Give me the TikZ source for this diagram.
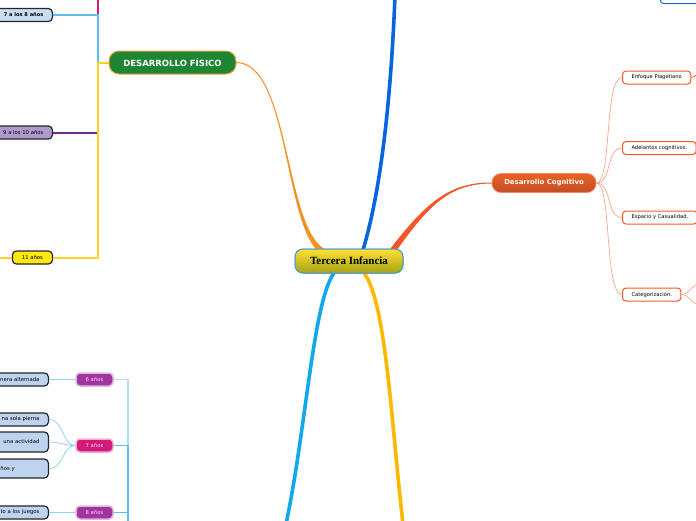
\documentclass[tikz,border=0pt]{standalone}
\usepackage{fontspec}
\setmainfont{Liberation Serif}
\setsansfont{DejaVu Sans}
\usetikzlibrary{positioning}
\definecolor{fisgreen}{HTML}{1E8533}
\definecolor{fisborder}{HTML}{F0A040}
\definecolor{cogred}{HTML}{E55A2B}
\definecolor{cogline}{HTML}{F6A587}
\definecolor{cogedge}{HTML}{F05A28}
\definecolor{rootedge}{HTML}{4A9BD0}
\definecolor{branchorange}{HTML}{F39325}
\definecolor{branchblue}{HTML}{0766DD}
\definecolor{branchred}{HTML}{F2562A}
\definecolor{branchcyan}{HTML}{12A8EA}
\definecolor{branchamber}{HTML}{FFB800}
\definecolor{agelightblue}{HTML}{C6DDF2}
\definecolor{agepurple}{HTML}{B09ACD}
\definecolor{ageyellow}{HTML}{FFE814}
\definecolor{leafblue}{HTML}{BDD3EE}
\definecolor{aniopurple}{HTML}{A2339F}
\definecolor{aniopink}{HTML}{D3197B}
\definecolor{lineltblue}{HTML}{5BC0F0}
\definecolor{linepurple}{HTML}{6A2C91}
\definecolor{lineyellow}{HTML}{FFD21E}
\definecolor{linepink}{HTML}{E0186C}
\definecolor{linesky}{HTML}{8FD3F5}
\definecolor{topblue}{HTML}{1565E0}

\begin{document}
\begin{tikzpicture}[
    x=1pt, y=-1pt,
    root/.style={draw=rootedge, line width=1pt, rounded corners=8pt,
                 top color=yellow!70!orange!80!white, bottom color=yellow!60!black!90,
                 minimum width=108pt, minimum height=24pt,
                 font=\bfseries\fontsize{11}{13}\selectfont},
    fisbox/.style={draw=fisborder, line width=1pt, fill=fisgreen, rounded corners=10pt,
                   minimum width=127pt, minimum height=23pt, text=white,
                   font=\sffamily\bfseries\fontsize{8.5}{10}\selectfont},
    cogbox/.style={draw=cogred!70!white, line width=0.8pt, top color=cogred!80!orange, bottom color=cogred!85!black,
                   rounded corners=9pt, minimum width=104pt, minimum height=19pt, text=white,
                   font=\sffamily\bfseries\fontsize{6.9}{8}\selectfont},
    cogchild/.style={draw=cogedge, line width=1pt, fill=white, rounded corners=3.5pt,
                     minimum height=13pt, inner xsep=9pt, inner ysep=0pt,
                     font=\sffamily\fontsize{5.2}{6}\selectfont},
    edad/.style={draw=black!85, line width=1.2pt, rounded corners=4pt, anchor=east,
                 minimum height=13pt, inner xsep=9pt, inner ysep=0pt,
                 font=\sffamily\fontsize{5.3}{6}\selectfont},
    anio/.style={draw=#1!35!white, line width=1.5pt, fill=#1, rounded corners=4pt,
                 minimum width=37pt, minimum height=13pt, inner sep=0pt, text=white!85!#1,
                 font=\sffamily\fontsize{5.3}{6}\selectfont},
    hoja/.style={draw=black!85, line width=1.2pt, fill=leafblue, rounded corners=4pt, anchor=east,
                 minimum height=13pt, inner xsep=9pt, inner ysep=0pt, text width=41pt, align=right,
                 font=\sffamily\fontsize{5.3}{6}\selectfont},
    cogedge/.style={draw=cogline, line width=0.7pt},
    skyedge/.style={draw=linesky, line width=0.8pt}
]
\clip (0,0) rectangle (696,520);
\useasboundingbox (0,0) rectangle (696,520);

% --- free ends ---
\coordinate (fis-top) at (98,-6);
\coordinate (fis-junta) at (98,62.5);
\coordinate (anio-junta) at (128,530);
\coordinate (blue-end) at (395,-4);
\coordinate (cyan-end) at (286,524);
\coordinate (amber-end) at (403,524);
\coordinate (enf-out) at (700,72);
\coordinate (cat-a) at (700,284);
\coordinate (cat-b) at (700,305);
\coordinate (age11-in) at (-4,257.5);

% --- main nodes ---
\node[root] (centro) at (349,261) {Tercera Infancia};
\node[fisbox] (fisico) at (172.5,62.5) {DESARROLLO FÍSICO};
\node[cogbox] (cognitivo) at (544,183) {Desarrollo Cognitivo};
\node[draw=topblue, line width=1pt, fill=white, rounded corners=3pt, anchor=south west,
      minimum width=60pt, minimum height=20pt] (arriba) at (660,4) {};

% --- main branches (tapered) ---
\fill[branchorange] ([yshift=0.5pt]fisico.east) .. controls (290,62) and (284.7,230.4) .. (326,249.7)
      -- (323,255) .. controls (283.3,233.6) and (290,64) .. ([yshift=-0.5pt]fisico.east) -- cycle;
\fill[branchred] (390.5,248.5) .. controls (426.5,201.9) and (450,182.2) .. ([yshift=0.5pt]cognitivo.west)
      -- ([yshift=-0.5pt]cognitivo.west) .. controls (450,183.8) and (429.5,204.1) .. (395.5,252) -- cycle;
\draw[branchblue, line width=3.6pt] (363,250) .. controls (378,200) and (390,120) .. (blue-end);
\draw[branchcyan, line width=3.6pt] (334,273) .. controls (313,302) and (306,430) .. (cyan-end);
\draw[branchamber, line width=3.6pt] (364,273) .. controls (386,302) and (391,420) .. (amber-end);
\node[root] at (centro) {Tercera Infancia};

% --- desarrollo fisico ---
\node[edad, fill=agelightblue, font=\sffamily\bfseries\fontsize{5.1}{6}\selectfont] (e78) at (53,15) {7 a los 8 años};
\node[edad, fill=agepurple] (e910) at (53,132.5) {9 a los 10 años};
\node[edad, fill=ageyellow, minimum width=40pt] (e11) at (53,257.5) {11 años};

\draw[linepink, line width=2pt] (fis-top) -- (fis-junta);
\draw[lineltblue, line width=2pt] (e78.east) -| (fis-junta);
\draw[linepurple, line width=2pt] (e910.east) -| (fis-junta);
\draw[lineyellow, line width=2pt] (e11.east) -| (fis-junta) -- (fisico.west);
\draw[lineyellow, line width=2pt] (age11-in) -- (e11.west);

% --- edades abajo ---
\node[anio=aniopurple] (a6) at (94.5,379.5) {6 años};
\node[anio=aniopink] (a7) at (94.5,445.5) {7 años};
\node[anio=aniopurple] (a8) at (94.5,512.5) {8 años};

\draw[linesky!70!white, line width=1.5pt] (a6.east) -| (anio-junta);
\draw[lineltblue, line width=1.5pt] (a7.east) -| (anio-junta);
\draw[lineltblue, line width=1.5pt] (a8.east) -| (anio-junta);

\node[hoja] (h61) at (49,379.5) {nera alternada};
\node[hoja] (h71) at (49,419.5) {na sola pierna};
\node[hoja, minimum height=20pt] (h72) at (49,442) {una actividad};
\node[hoja, minimum height=19pt, text width=39pt, align=left] (h73) at (49,468.5) {ños y};
\node[hoja] (h81) at (49,512.5) {to a los juegos};

\draw[skyedge] (a6.west) -- (h61.east);
\draw[skyedge] (a7.west) .. controls (62,445.5) and (64,419.5) .. (h71.east);
\draw[skyedge] (a7.west) .. controls (62,445.5) and (62,442) .. (h72.east);
\draw[skyedge] (a7.west) .. controls (62,445.5) and (64,468.5) .. (h73.east);
\draw[skyedge] (a8.west) -- (h81.east);

% --- desarrollo cognitivo ---
\node[cogchild, anchor=west] (enfoque) at (622,77.5) {Enfoque Piagetiano};
\node[cogchild, anchor=west] (adelantos) at (622,148) {Adelantos cognitivos.};
\node[cogchild, anchor=west] (espacio) at (622,217.5) {Espacio y Casualidad.};
\node[cogchild, anchor=west] (categ) at (622,294.5) {Categorización.};

\draw[cogedge] (cognitivo.east) .. controls (612,183) and (604,77.5) .. (enfoque.west);
\draw[cogedge] (cognitivo.east) .. controls (612,183) and (606,148) .. (adelantos.west);
\draw[cogedge] (cognitivo.east) .. controls (612,183) and (606,217.5) .. (espacio.west);
\draw[cogedge] (cognitivo.east) .. controls (612,183) and (604,294.5) .. (categ.west);

\draw[cogedge, draw=cogedge] (enfoque.east) .. controls (697,77.5) and (696,72) .. (enf-out);
\draw[cogedge] (categ.east) .. controls (690,294.5) and (690,285) .. (cat-a);
\draw[cogedge] (categ.east) .. controls (690,294.5) and (690,304) .. (cat-b);

\end{tikzpicture}
\end{document}
